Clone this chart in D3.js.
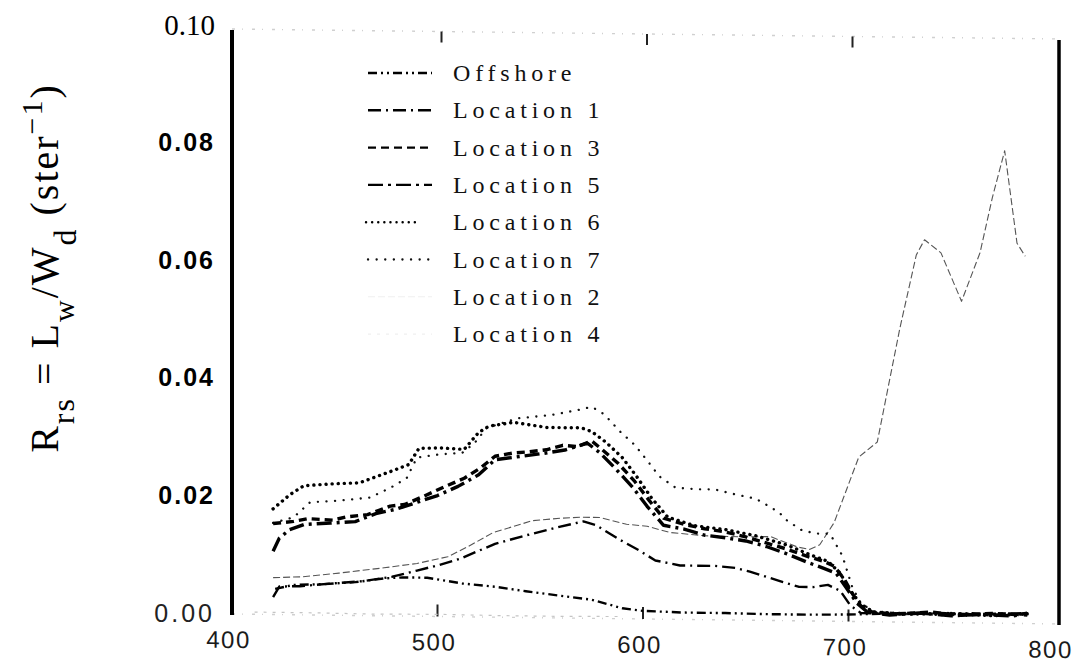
<!DOCTYPE html>
<html>
<head>
<meta charset="utf-8">
<script src="https://cdn.jsdelivr.net/npm/d3@7"></script>
<style>
  body { margin: 0; background: #fff; }
  svg { display: block; }
</style>
</head>
<body>
<svg id="chart" width="1080" height="663"></svg>
<script>
// Values: wavelength (nm) and Rrs (1/sr)
const offshoreWl  = [421, 430, 445, 460, 474, 483, 495, 512, 528, 543, 560, 575, 590, 600, 620, 640, 660, 680, 700, 715, 730, 745, 760, 775, 787];
const offshoreRrs = [0.0042, 0.0049, 0.0051, 0.0055, 0.0062, 0.0064, 0.0064, 0.0055, 0.0050, 0.0043, 0.0036, 0.0030, 0.0016, 0.0012, 0.0010, 0.0010, 0.0009, 0.0009, 0.0010, 0.0012, 0.0014, 0.0011, 0.0015, 0.0012, 0.0016];

const loc1Wl  = [420, 423, 433, 448, 464, 478, 490, 500, 511, 528, 543, 558, 571, 577, 589, 598, 606, 618, 635, 645, 652, 667, 676, 683, 690, 696, 701, 706, 720, 740, 760, 787];
const loc1Rrs = [0.0028, 0.0046, 0.0047, 0.0052, 0.0057, 0.0065, 0.0076, 0.0085, 0.0097, 0.0123, 0.0138, 0.0152, 0.0163, 0.0157, 0.0132, 0.0115, 0.0098, 0.0090, 0.0090, 0.0087, 0.0081, 0.0065, 0.0056, 0.0056, 0.0060, 0.0050, 0.0025, 0.0013, 0.0012, 0.0015, 0.0013, 0.0016];

const loc3Wl  = [420, 430, 437, 449, 456, 466, 477, 484, 493, 504, 513, 521, 528, 537, 544, 553, 561, 568, 575, 580, 588, 596, 603, 610, 620, 630, 640, 650, 660, 670, 680, 688, 693, 698, 702, 706, 712, 725, 740, 755, 770, 787];
const loc3Rrs = [0.0153, 0.0157, 0.0162, 0.0160, 0.0166, 0.0170, 0.0185, 0.0188, 0.0202, 0.0220, 0.0234, 0.0252, 0.0272, 0.0278, 0.0280, 0.0284, 0.0292, 0.0290, 0.0300, 0.0286, 0.0262, 0.0232, 0.0200, 0.0170, 0.0160, 0.0153, 0.0148, 0.0140, 0.0130, 0.0120, 0.0108, 0.0100, 0.0092, 0.0070, 0.0045, 0.0025, 0.0014, 0.0012, 0.0016, 0.0011, 0.0015, 0.0013];

const loc5Wl  = [420, 423, 428, 435, 448, 460, 470, 480, 490, 500, 510, 520, 528, 540, 552, 562, 573, 579, 587, 595, 602, 610, 620, 630, 640, 650, 660, 670, 680, 688, 694, 699, 704, 709, 720, 735, 750, 765, 780, 787];
const loc5Rrs = [0.0106, 0.0128, 0.0143, 0.0152, 0.0155, 0.0158, 0.0172, 0.0180, 0.0192, 0.0204, 0.0220, 0.0240, 0.0266, 0.0272, 0.0278, 0.0284, 0.0296, 0.0280, 0.0252, 0.0222, 0.0190, 0.0158, 0.0152, 0.0142, 0.0138, 0.0133, 0.0124, 0.0112, 0.0098, 0.0088, 0.0080, 0.0055, 0.0030, 0.0015, 0.0010, 0.0014, 0.0010, 0.0013, 0.0011, 0.0016];

const loc6Wl  = [420, 428, 435, 450, 462, 478, 486, 491, 502, 513, 520, 525, 537, 553, 570, 575, 582, 590, 597, 604, 612, 625, 640, 655, 670, 682, 690, 696, 701, 706, 712, 730, 750, 770, 787];
const loc6Rrs = [0.0178, 0.0202, 0.0218, 0.0222, 0.0224, 0.0245, 0.0256, 0.0284, 0.0285, 0.0283, 0.0312, 0.0323, 0.0330, 0.0322, 0.0322, 0.0316, 0.0298, 0.0272, 0.0240, 0.0205, 0.0172, 0.0158, 0.0152, 0.0142, 0.0127, 0.0110, 0.0100, 0.0080, 0.0050, 0.0028, 0.0015, 0.0012, 0.0014, 0.0011, 0.0015];

const loc7Wl  = [420, 430, 438, 451, 467, 477, 485, 490, 501, 512, 518, 524, 539, 555, 568, 575, 581, 589, 596, 602, 608, 616, 627, 635, 645, 655, 659, 666, 670, 677, 684, 691, 697, 702, 706, 712, 730, 750, 770, 787];
const loc7Rrs = [0.0154, 0.0164, 0.0190, 0.0193, 0.0199, 0.0216, 0.0233, 0.0268, 0.0274, 0.0277, 0.0294, 0.0320, 0.0337, 0.0343, 0.0352, 0.0358, 0.0346, 0.0316, 0.0294, 0.0268, 0.0241, 0.0222, 0.0220, 0.0220, 0.0212, 0.0205, 0.0197, 0.0183, 0.0169, 0.0153, 0.0147, 0.0147, 0.0110, 0.0055, 0.0030, 0.0016, 0.0012, 0.0015, 0.0012, 0.0014];

const loc2Wl  = [420, 434, 452, 474, 490, 505, 515, 527, 546, 560, 570, 579, 592, 602, 613, 630, 648, 662, 675, 681, 686, 693, 705, 714, 725, 733, 737, 745, 755, 764, 770, 776, 782, 786];
const loc2Rrs = [0.0061, 0.0063, 0.0070, 0.0080, 0.0088, 0.0100, 0.0118, 0.0142, 0.0163, 0.0168, 0.0170, 0.0170, 0.0159, 0.0156, 0.0146, 0.0141, 0.0140, 0.0141, 0.0124, 0.0120, 0.0128, 0.0166, 0.0278, 0.0304, 0.0498, 0.0623, 0.0649, 0.0627, 0.0545, 0.0628, 0.0722, 0.0802, 0.0645, 0.0623];

const loc4Wl  = [411, 440, 470, 500, 530, 560, 590];
const loc4Rrs = [0.0002, 0.0002, 0.0001, 0.0002, 0.0001, 0.0001, 0.0002];

const legendNames = ["Offshore", "Location 1", "Location 3", "Location 5", "Location 6", "Location 7", "Location 2", "Location 4"];
const xTicks = [400, 500, 600, 700, 800];
const yTicks = [0, 0.02, 0.04, 0.06, 0.08, 0.10];
const frameTicks = [500, 600, 700];

// line styles, one per series (the scan is black and white)
const styles = {
    "Offshore":   { dash: "9,4,2,4,2,4", width: 2.4, color: "#000", cap: "butt" },
    "Location 1": { dash: "13,5,2,5",    width: 2.4, color: "#000", cap: "butt" },
    "Location 3": { dash: "8,5",         width: 3.4, color: "#000", cap: "butt" },
    "Location 5": { dash: "15,5,3,5",    width: 3.4, color: "#000", cap: "butt" },
    "Location 6": { dash: "0.1,6",       width: 3.4, color: "#000", cap: "round" },
    "Location 7": { dash: "0.1,8.5",     width: 2.3, color: "#111", cap: "round" },
    "Location 2": { dash: "7,3",         width: 1.1, color: "#555", cap: "butt" },
    "Location 4": { dash: "3,6",         width: 1.2, color: "#c4c4c4", cap: "butt" }
};

const series = [
    { name: "Offshore",   wl: offshoreWl, rrs: offshoreRrs },
    { name: "Location 2", wl: loc2Wl,     rrs: loc2Rrs },
    { name: "Location 4", wl: loc4Wl,     rrs: loc4Rrs },
    { name: "Location 7", wl: loc7Wl,     rrs: loc7Rrs },
    { name: "Location 6", wl: loc6Wl,     rrs: loc6Rrs },
    { name: "Location 1", wl: loc1Wl,     rrs: loc1Rrs },
    { name: "Location 5", wl: loc5Wl,     rrs: loc5Rrs },
    { name: "Location 3", wl: loc3Wl,     rrs: loc3Rrs }
];

const svg = d3.select("#chart");
const plotLeft = 232, plotRight = 1059, plotTop = 29, plotBottom = 614;

const x = d3.scaleLinear().domain([400, 800]).range([232, 1054]);
const y = d3.scaleLinear().domain([0, 0.1]).range([613, 25]);

// the scanned page is slightly sheared: right side sits lower
const plot = svg.append("g")
    .attr("transform", `translate(${plotLeft},0) skewY(0.69) translate(${-plotLeft},0)`);

// faint top / bottom frame lines
[plotTop, plotBottom].forEach(yy => {
    plot.append("line")
        .attr("x1", plotLeft).attr("x2", plotRight)
        .attr("y1", yy).attr("y2", yy)
        .attr("stroke", "#d0d0d0")
        .attr("stroke-width", 1.4)
        .attr("stroke-dasharray", "3,7,1,9");
});

// short frame ticks
plot.selectAll(".tick-top").data(frameTicks).enter().append("line")
    .attr("x1", d => x(d) + 4).attr("x2", d => x(d) + 4)
    .attr("y1", plotTop).attr("y2", plotTop + 11)
    .attr("stroke", "#222").attr("stroke-width", 2);
plot.selectAll(".tick-bot").data(frameTicks).enter().append("line")
    .attr("x1", d => x(d)).attr("x2", d => x(d))
    .attr("y1", plotBottom - 12).attr("y2", plotBottom)
    .attr("stroke", "#222").attr("stroke-width", 2);

// left and right solid axis lines
plot.append("line")
    .attr("x1", plotLeft).attr("x2", plotLeft).attr("y1", plotTop + 1).attr("y2", plotBottom + 1)
    .attr("stroke", "#000").attr("stroke-width", 4);
plot.append("line")
    .attr("x1", plotRight).attr("x2", plotRight).attr("y1", plotTop + 1).attr("y2", plotBottom + 1)
    .attr("stroke", "#000").attr("stroke-width", 3.5);

// curves
const line = d3.line()
    .x(d => x(d[0]))
    .y(d => y(d[1]));

series.forEach(s => {
    const st = styles[s.name];
    plot.append("path")
        .datum(s.wl.map((w, i) => [w, s.rrs[i]]))
        .attr("fill", "none")
        .attr("stroke", st.color)
        .attr("stroke-width", st.width)
        .attr("stroke-dasharray", st.dash)
        .attr("stroke-linecap", st.cap)
        .attr("stroke-linejoin", "round")
        .attr("d", line);
});

// x tick labels
const xAxis = plot.append("g")
    .attr("transform", `translate(0,${plotBottom})`)
    .call(d3.axisBottom(x).tickValues(xTicks).tickSize(0).tickPadding(17).tickFormat(d3.format("d")));
xAxis.select(".domain").remove();
xAxis.selectAll("text")
    .attr("dx", -4)
    .attr("font-family", "Liberation Sans, Arial, sans-serif")
    .attr("font-size", 24)
    .attr("letter-spacing", 1.5)
    .attr("fill", "#1a1a1a");

// y tick labels: the scan mixes a serif top label with sans ones
const yAxis = svg.append("g")
    .attr("transform", `translate(${plotLeft},0)`)
    .call(d3.axisLeft(y).tickValues(yTicks).tickSize(0).tickPadding(17).tickFormat(d3.format(".2f")));
yAxis.select(".domain").remove();
yAxis.selectAll("text")
    .attr("font-family", d => d === 0.10 ? "Liberation Serif, Times New Roman, serif" : "Liberation Sans, Arial, sans-serif")
    .attr("font-size", d => d === 0.10 ? 29 : 25)
    .attr("letter-spacing", d => d === 0.10 ? 0 : (d === 0 ? 3 : 2))
    .attr("font-weight", d => (d > 0 && d < 0.1) ? "bold" : "normal")
    .attr("fill", d => d === 0 ? "#222" : "#000");

// legend
const legend = svg.append("g");
legendNames.forEach((name, i) => {
    const st = styles[name];
    const ly = 73 + i * 37.3;
    const faint = name === "Location 2" || name === "Location 4";
    legend.append("line")
        .attr("x1", name === "Location 6" ? 366 : 368)
        .attr("x2", name === "Location 6" ? 418 : 432)
        .attr("y1", ly).attr("y2", ly)
        .attr("stroke", faint ? "#f0f0f0" : st.color)
        .attr("stroke-width", Math.min(st.width, 2.4))
        .attr("stroke-dasharray", st.dash)
        .attr("stroke-linecap", st.cap);
    legend.append("text")
        .attr("x", 453)
        .attr("y", ly + 8)
        .attr("font-family", "Liberation Serif, Times New Roman, serif")
        .attr("font-size", 24)
        .attr("letter-spacing", 4.8)
        .attr("fill", "#111")
        .text(name);
});

// y axis title: R_rs = L_w / W_d (ster^-1)
const title = svg.append("text")
    .attr("transform", "translate(58,268) rotate(-90)")
    .attr("text-anchor", "middle")
    .attr("font-family", "Liberation Serif, Times New Roman, serif")
    .attr("font-size", 40)
    .attr("letter-spacing", 2)
    .attr("fill", "#000");
title.append("tspan").text("R");
title.append("tspan").attr("font-size", 32).attr("dy", 16).text("rs");
title.append("tspan").attr("dy", -16).text(" = L");
title.append("tspan").attr("font-size", 30).attr("dy", 16).text("w");
title.append("tspan").attr("dy", -16).text("/W");
title.append("tspan").attr("font-size", 32).attr("dy", 18).text("d");
title.append("tspan").attr("dy", -18).text(" (ster");
title.append("tspan").attr("font-size", 30).attr("dy", -16).text("\u2212" + "1");
title.append("tspan").attr("dy", 16).text(")");
</script>
</body>
</html>
